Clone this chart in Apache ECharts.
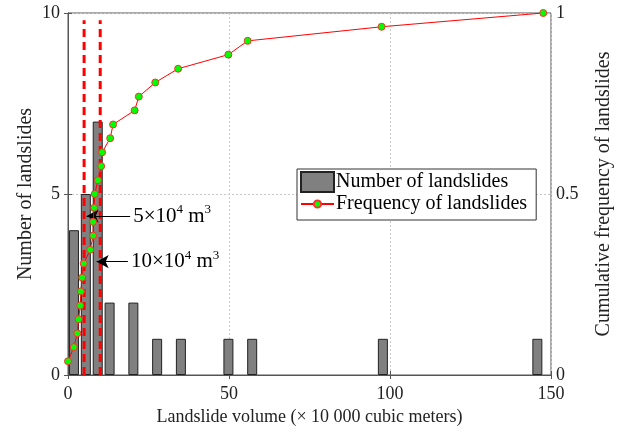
<!DOCTYPE html>
<html>
<head>
<meta charset="utf-8">
<script src="https://cdn.jsdelivr.net/npm/echarts@6/dist/echarts.min.js"></script>
<style>
  html, body { margin: 0; padding: 0; background: #fff; }
  #chart { width: 619px; height: 435px; }
</style>
</head>
<body>
<div id="chart"></div>
<script>
// histogram bins (x 10 000 m3) and counts
const binCenters = [1.85, 5.54, 9.23, 12.92, 20.30, 27.68, 35.06, 49.82, 57.20, 97.79, 145.76]
const counts = [4, 5, 7, 2, 2, 1, 1, 1, 1, 1, 1]

// sorted landslide volumes and cumulative frequency
const volumes = [0, 1.8, 2.9, 3.3, 3.8, 4.0, 4.4, 4.9, 6.9, 7.8, 7.8, 8.1, 8.3, 9.3, 10.3, 10.6,
  13.1, 14.0, 20.7, 22.0, 27.1, 34.2, 49.8, 55.8, 97.4, 147.6]
const cumFreq = [0.038, 0.077, 0.115, 0.154, 0.192, 0.231, 0.269, 0.308, 0.346, 0.385, 0.423, 0.462, 0.5,
  0.538, 0.577, 0.615, 0.654, 0.692, 0.731, 0.769, 0.808, 0.846, 0.885, 0.923, 0.962, 1]

// threshold lines
const thresholds = [5, 10]
const thresholdTop = 9.8

// arrow annotations
const arrowFrom = [19.3, 18.6]
const arrowTo = [5.8, 8.9]
const arrowY = [4.39, 3.13]
const arrowText = ['5×10{s|4} m{s|3}', '10×10{s|4} m{s|3}']

const font = 'Liberation Serif'
const chart = echarts.init(document.getElementById('chart'))

const thresholdSeries = thresholds.map(v => ({
  type: 'line',
  xAxisIndex: 0,
  yAxisIndex: 0,
  data: [[v, 0], [v, thresholdTop]],
  symbol: 'none',
  silent: true,
  z: 3,
  lineStyle: { color: '#ff0000', width: 3, type: [8, 5] }
}))

const arrowSeries = {
  type: 'line',
  xAxisIndex: 0,
  yAxisIndex: 0,
  data: [],
  silent: true,
  z: 6,
  markLine: {
    silent: true,
    animation: false,
    symbol: ['none', 'arrow'],
    symbolSize: [10, 12],
    lineStyle: { color: '#000', width: 1, type: 'solid' },
    label: {
      show: true,
      position: 'start',
      distance: 3,
      color: '#000',
      fontFamily: font,
      fontSize: 21,
      lineHeight: 26,
      rich: {
        s: { fontFamily: font, fontSize: 13, verticalAlign: 'top', lineHeight: 26, color: '#000' }
      }
    },
    data: arrowFrom.map((x, i) => [
      { coord: [x, arrowY[i]], label: { formatter: arrowText[i] } },
      { coord: [arrowTo[i], arrowY[i]] }
    ])
  }
}

const legendText = { fontFamily: font, fontSize: 20, color: '#000', padding: [0, 0, 0, -3] }

const option = {
  animation: false,
  backgroundColor: '#fff',
  textStyle: { fontFamily: font },
  grid: {
    left: 68, right: 68, top: 13, bottom: 60,
    outerBoundsMode: 'none',
    show: true, borderColor: '#555', borderWidth: 1
  },
  legend: [
    {
      // bar entry, its padding also frames the second row
      left: 297,
      top: 169,
      orient: 'vertical',
      itemWidth: 33,
      itemHeight: 20,
      padding: [2, 28, 27, 3],
      borderColor: '#333',
      borderWidth: 1,
      backgroundColor: '#fff',
      textStyle: legendText,
      data: [{ name: 'Number of landslides', icon: 'rect' }]
    },
    {
      left: 300,
      top: 194,
      orient: 'vertical',
      itemWidth: 33,
      itemHeight: 9,
      padding: 0,
      z: 5,
      textStyle: legendText,
      data: [{ name: 'Frequency of landslides' }]
    }
  ],
  xAxis: [
    {
      type: 'value',
      min: 0, max: 150, interval: 50,
      name: 'Landslide volume (× 10 000 cubic meters)',
      nameLocation: 'middle',
      nameGap: 30,
      nameTextStyle: { fontFamily: font, fontSize: 18, color: '#222' },
      axisLine: { show: true, lineStyle: { color: '#555' } },
      axisTick: { show: true, inside: true, length: 4, lineStyle: { color: '#555' } },
      axisLabel: { fontFamily: font, fontSize: 18, color: '#222', margin: 10 },
      splitLine: { show: true, lineStyle: { color: '#c8c8c8', type: [2, 2] } }
    },
    {
      type: 'value',
      position: 'top',
      min: 0, max: 150, interval: 50,
      axisLine: { show: true, lineStyle: { color: '#555' } },
      axisTick: { show: true, inside: true, length: 4, lineStyle: { color: '#555' } },
      axisLabel: { show: false },
      splitLine: { show: false }
    }
  ],
  yAxis: [
    {
      type: 'value',
      min: 0, max: 10, interval: 5,
      name: 'Number of landslides',
      nameLocation: 'middle',
      nameGap: 32,
      nameMoveOverlap: false,
      nameTextStyle: { fontFamily: font, fontSize: 20, color: '#222' },
      axisLine: { show: true, lineStyle: { color: '#555' } },
      axisTick: { show: true, inside: true, length: 4, lineStyle: { color: '#555' } },
      axisLabel: { fontFamily: font, fontSize: 18, color: '#222', margin: 8 },
      splitLine: { show: true, lineStyle: { color: '#c8c8c8', type: [2, 2] } }
    },
    {
      type: 'value',
      min: 0, max: 1, interval: 0.5,
      position: 'right',
      name: 'Cumulative frequency of landslides',
      nameLocation: 'middle',
      nameGap: 43,
      nameMoveOverlap: false,
      nameTextStyle: { fontFamily: font, fontSize: 20, color: '#222' },
      axisLine: { show: true, lineStyle: { color: '#555' } },
      axisTick: { show: true, inside: true, length: 4, lineStyle: { color: '#555' } },
      axisLabel: { fontFamily: font, fontSize: 18, color: '#222', margin: 5 },
      splitLine: { show: false }
    }
  ],
  series: [
    {
      name: 'Number of landslides',
      type: 'bar',
      xAxisIndex: 0,
      yAxisIndex: 0,
      barWidth: 10,
      z: 2,
      data: binCenters.map((x, i) => [x, counts[i]]),
      itemStyle: { color: '#808080', borderColor: '#222', borderWidth: 1 }
    },
    ...thresholdSeries,
    {
      name: 'Frequency of landslides',
      type: 'line',
      xAxisIndex: 0,
      yAxisIndex: 1,
      z: 5,
      data: volumes.map((x, i) => [x, cumFreq[i]]),
      symbol: 'circle',
      symbolSize: 7,
      showAllSymbol: true,
      lineStyle: { color: '#ff0000', width: 1 },
      itemStyle: { color: '#00ff00', borderColor: '#ff3030', borderWidth: 1 }
    },
    arrowSeries
  ]
}

chart.setOption(option)
</script>
</body>
</html>
